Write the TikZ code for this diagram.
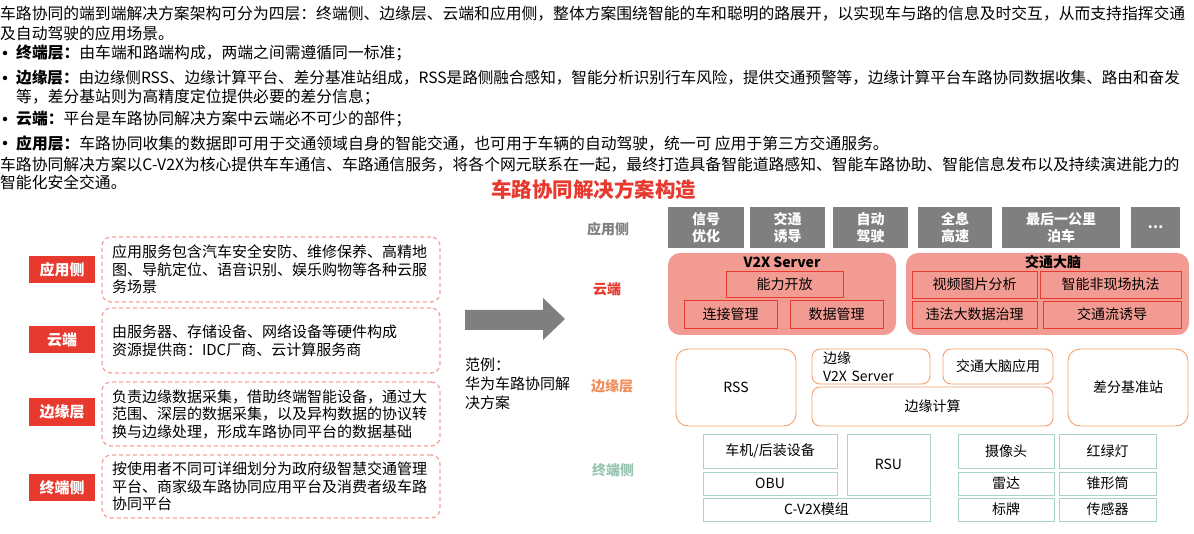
\documentclass[tikz,border=0pt]{standalone}
\usepackage{fontspec}
\setmainfont{Noto Sans CJK SC}
\usetikzlibrary{positioning}
\definecolor{hwred}{HTML}{E8392F}
\definecolor{hwsalmon}{HTML}{F29B93}
\definecolor{hwdash}{HTML}{F4A19B}
\definecolor{hworange}{HTML}{F4A06C}
\definecolor{hworangetxt}{HTML}{F08C5A}
\definecolor{hwteal}{HTML}{A9D3C3}
\definecolor{hwtealtxt}{HTML}{96C5B1}
\definecolor{hwgray}{HTML}{7F7F7F}

\begin{document}
\begin{tikzpicture}[x=1pt,y=-1pt,
  every node/.style={inner sep=0pt,font=\fontsize{14}{17}\selectfont},
  para/.style={anchor=west,font=\fontsize{15.8}{19}\selectfont},
  dot/.style={circle,fill=black,minimum size=4.5pt},
  tagbox/.style={fill=hwred,text=white,font=\fontsize{15}{18}\selectfont\bfseries,minimum width=66pt,minimum height=27pt},
  notebox/.style={draw=hwdash,dash pattern=on 4pt off 3pt,line width=1.3pt,rounded corners=9pt,text width=318pt,inner xsep=10pt,minimum height=#1,align=left,font=\fontsize{15}{17.5}\selectfont},
  layer/.style={font=\fontsize{14}{17}\selectfont\bfseries},
  appbox/.style={fill=hwgray,text=white,font=\fontsize{14}{17}\selectfont\bfseries,align=center,minimum height=41pt,minimum width=#1},
  cloudbox/.style={fill=hwsalmon,rounded corners=12pt,minimum height=82pt,minimum width=#1},
  cloudtitle/.style={font=\fontsize{14}{17}\selectfont\bfseries},
  svcbox/.style={draw=hwred,fill=hwsalmon,line width=0.8pt,minimum height=27pt,minimum width=#1},
  edgebox/.style={draw=hworange,line width=0.9pt,rounded corners=8pt,fill=white,minimum width=#1},
  termbox/.style={draw=hwteal,line width=1pt,fill=white,minimum width=#1}]
\useasboundingbox (0,0) rectangle (1194,534);

\node[para] (t1) at (0,14) {车路协同的端到端解决方案架构可分为四层：终端侧、边缘层、云端和应用侧，整体方案围绕智能的车和聪明的路展开，以实现车与路的信息及时交互，从而支持指挥交通};
\node[para] (t2) at (0,33) {及自动驾驶的应用场景。};
\node[dot] (d1) at (5,53) {};
\node[para] (t3) at (16,53) {\textbf{终端层：}由车端和路端构成，两端之间需遵循同一标准；};
\node[dot] (d2) at (5,78) {};
\node[para,font=\fontsize{15.6}{19}\selectfont] (t4) at (16,78) {\textbf{边缘层：}由边缘侧RSS、边缘计算平台、差分基准站组成，RSS是路侧融合感知，智能分析识别行车风险，提供交通预警等，边缘计算平台车路协同数据收集、路由和奋发};
\node[para] (t5) at (16,97) {等，差分基站则为高精度定位提供必要的差分信息；};
\node[dot] (d3) at (5,119) {};
\node[para] (t6) at (16,119) {\textbf{云端：}平台是车路协同解决方案中云端必不可少的部件；};
\node[dot] (d4) at (5,143) {};
\node[para] (t7) at (16,143) {\textbf{应用层：}车路协同收集的数据即可用于交通领域自身的智能交通，也可用于车辆的自动驾驶，统一可 应用于第三方交通服务。};
\node[para] (t8) at (0,165) {车路协同解决方案以C-V2X为核心提供车车通信、车路通信服务，将各个网元联系在一起，最终打造具备智能道路感知、智能车路协助、智能信息发布以及持续演进能力的};
\node[para] (t9) at (0,182) {智能化安全交通。};
\node[text=hwred,font=\fontsize{20.5}{24}\selectfont\bfseries] (title) at (593.5,190) {车路协同解决方案构造};

\node[tagbox] (lapp) at (62,269.5) {应用侧};
\node[notebox=65pt] (napp) at (271,269.5) {应用服务包含汽车安全安防、维修保养、高精地\\图、导航定位、语音识别、娱乐购物等各种云服\\务场景};
\node[tagbox] (lcloud) at (62,340) {云端};
\node[notebox=65pt] (ncloud) at (271,340.5) {由服务器、存储设备、网络设备等硬件构成\\资源提供商：IDC厂商、云计算服务商};
\node[tagbox] (ledge) at (62,412) {边缘层};
\node[notebox=64pt] (nedge) at (271,414) {负责边缘数据采集，借助终端智能设备，通过大\\范围、深层的数据采集，以及异构数据的协议转\\换与边缘处理，形成车路协同平台的数据基础};
\node[tagbox] (lterm) at (62,487.5) {终端侧};
\node[notebox=63pt] (nterm) at (271,486.5) {按使用者不同可详细划分为政府级智慧交通管理\\平台、商家级车路协同应用平台及消费者级车路\\协同平台};

\fill[hwgray] (465,310) -- (543,310) -- (543,298) -- (565,319) -- (543,340) -- (543,330) -- (465,330) -- cycle;
\node[anchor=west,align=left,font=\fontsize{15}{19}\selectfont] (eg) at (465,384) {范例：\\华为车路协同解\\决方案};

\node[layer,text=hwgray] (rapp) at (608,229) {应用侧};
\node[layer,text=hwred] (rcloud) at (607,289) {云端};
\node[layer,text=hworangetxt] (redge) at (612,386) {边缘层};
\node[layer,text=hwtealtxt] (rterm) at (613,470) {终端侧};

\node[appbox=76pt] (a1) at (706,227.5) {信号\\优化};
\node[appbox=75pt] (a2) at (787.5,227.5) {交通\\诱导};
\node[appbox=75pt] (a3) at (870.5,227.5) {自动\\驾驶};
\node[appbox=74pt] (a4) at (955,227.5) {全息\\高速};
\node[appbox=118pt] (a5) at (1061,227.5) {最后一公里\\泊车};
\node[appbox=49pt] (a6) at (1155.5,227.5) {…};

\node[cloudbox=228pt] (v2x) at (782,294) {};
\node[cloudtitle] (v2xt) at (782,262) {V2X Server};
\node[svcbox=117pt,minimum height=26pt] (cap) at (784.5,284) {能力开放};
\node[svcbox=93pt,minimum height=28pt] (conn) at (730.5,314) {连接管理};
\node[svcbox=93pt,minimum height=28pt] (data) at (836.5,314) {数据管理};
\node[cloudbox=283pt] (brain) at (1047.5,294) {};
\node[cloudtitle] (braint) at (1053,262) {交通大脑};
\node[svcbox=125pt] (video) at (974.5,284.5) {视频图片分析};
\node[svcbox=141pt] (enforce) at (1110.5,284.5) {智能非现场执法};
\node[svcbox=125pt] (illegal) at (974.5,314.5) {违法大数据治理};
\node[svcbox=138pt] (flow) at (1112,314.5) {交通流诱导};

\node[edgebox=120pt,minimum height=77pt,rounded corners=12pt] (rss) at (736,387.5) {RSS};
\node[edgebox=118pt,minimum height=35pt,text width=96pt,inner xsep=11pt,align=left,font=\fontsize{14}{18}\selectfont] (ev2x) at (871,366.5) {边缘\\V2X Server};
\node[edgebox=110pt,minimum height=35pt] (bapp) at (998,366.5) {交通大脑应用};
\node[edgebox=241pt,minimum height=39pt] (ecomp) at (932.5,406.5) {边缘计算};
\node[edgebox=120pt,minimum height=77pt,rounded corners=12pt] (diff) at (1128,387.5) {差分基准站};

\node[termbox=134pt,minimum height=34pt] (car) at (770,451) {车机/后装设备};
\node[termbox=134pt,minimum height=23pt] (obu) at (770,483.5) {OBU};
\node[termbox=227pt,minimum height=23pt] (cv2x) at (816.5,509.5) {C-V2X模组};
\node[termbox=83pt,minimum height=61pt] (rsu) at (888.5,464.5) {RSU};
\node[termbox=96pt,minimum height=34pt] (cam) at (1006,451) {摄像头};
\node[termbox=97pt,minimum height=34pt] (light) at (1107.5,451) {红绿灯};
\node[termbox=96pt,minimum height=23pt] (radar) at (1006,483.5) {雷达};
\node[termbox=97pt,minimum height=23pt] (cone) at (1107.5,483.5) {锥形筒};
\node[termbox=96pt,minimum height=23pt] (sign) at (1006,509.5) {标牌};
\node[termbox=97pt,minimum height=23pt] (sensor) at (1107.5,509.5) {传感器};
\end{tikzpicture}
\end{document}
